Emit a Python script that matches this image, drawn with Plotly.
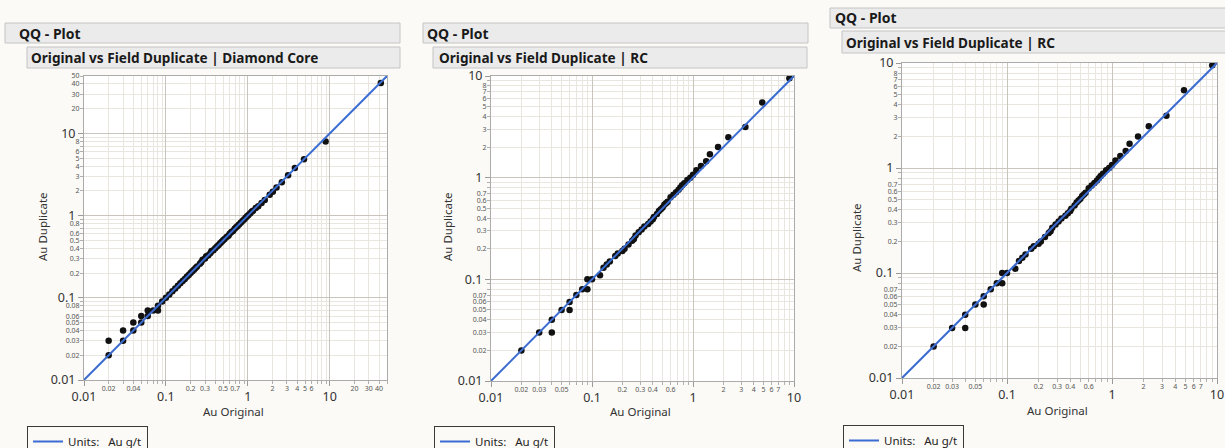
import math
import plotly.graph_objects as go

# ---------------- data ----------------
dc_original = [0.02, 0.02, 0.03, 0.03, 0.04, 0.04, 0.05, 0.05, 0.06, 0.06, 0.07, 0.08, 0.08, 0.09, 0.1,
               0.11, 0.12, 0.13, 0.14, 0.15, 0.16, 0.17, 0.18, 0.19, 0.2, 0.21, 0.22, 0.23, 0.24, 0.26,
               0.27, 0.28, 0.3, 0.31, 0.33, 0.35, 0.36, 0.38, 0.4, 0.42, 0.44, 0.46, 0.48, 0.5, 0.52,
               0.55, 0.58, 0.6, 0.63, 0.66, 0.69, 0.72, 0.75, 0.78, 0.82, 0.86, 0.9, 0.94, 0.98, 1.02,
               1.07, 1.12, 1.16, 1.25, 1.34, 1.47, 1.61, 1.85, 2.02, 2.24, 2.6, 3.1, 3.75, 4.85, 8.9, 42]
dc_duplicate = [0.02, 0.03, 0.03, 0.04, 0.04, 0.05, 0.05, 0.06, 0.06, 0.07, 0.07, 0.07, 0.08, 0.09, 0.1,
                0.11, 0.12, 0.13, 0.14, 0.15, 0.16, 0.17, 0.18, 0.19, 0.2, 0.21, 0.22, 0.23, 0.24, 0.26,
                0.27, 0.29, 0.3, 0.32, 0.33, 0.35, 0.37, 0.38, 0.4, 0.42, 0.44, 0.46, 0.48, 0.5, 0.52,
                0.55, 0.57, 0.6, 0.63, 0.65, 0.69, 0.72, 0.75, 0.78, 0.82, 0.86, 0.9, 0.94, 0.98, 1.02,
                1.07, 1.12, 1.15, 1.24, 1.3, 1.42, 1.55, 1.8, 1.95, 2.2, 2.55, 3.1, 3.8, 4.85, 8.0, 41]

rc_original = [0.02, 0.03, 0.04, 0.04, 0.05, 0.06, 0.06, 0.07, 0.08, 0.09, 0.09, 0.1, 0.12, 0.13, 0.14,
               0.15, 0.17, 0.18, 0.2, 0.21, 0.23, 0.25, 0.26, 0.27, 0.29, 0.31, 0.33, 0.36, 0.38, 0.4,
               0.41, 0.44, 0.46, 0.48, 0.5, 0.52, 0.54, 0.56, 0.6, 0.64, 0.68, 0.72, 0.75, 0.78, 0.82,
               0.88, 0.94, 1.0, 1.08, 1.2, 1.35, 1.47, 1.77, 2.24, 3.3, 4.85, 9.0]
rc_duplicate = [0.02, 0.03, 0.03, 0.04, 0.05, 0.05, 0.06, 0.07, 0.08, 0.08, 0.1, 0.1, 0.11, 0.13, 0.14,
                0.15, 0.17, 0.18, 0.19, 0.2, 0.22, 0.24, 0.25, 0.27, 0.29, 0.31, 0.33, 0.35, 0.37, 0.39,
                0.41, 0.44, 0.47, 0.49, 0.51, 0.54, 0.56, 0.58, 0.64, 0.68, 0.72, 0.76, 0.8, 0.84, 0.88,
                0.95, 1.0, 1.07, 1.18, 1.3, 1.45, 1.7, 2.0, 2.5, 3.15, 5.5, 9.5]

# 1:1 reference line end points
dc_line = [0.01, 50]
rc_line = [0.01, 10]

# tick labels
major_labels = [0.01, 0.1, 1, 10]
dc_x_minor_labels = [0.02, 0.04, 0.2, 0.3, 0.5, 0.7, 2, 3, 4, 5, 6, 20, 30, 40]
dc_y_minor_labels = [0.02, 0.03, 0.04, 0.05, 0.06, 0.08, 0.2, 0.3, 0.4, 0.5, 0.6, 0.8,
                     2, 3, 4, 5, 6, 8, 20, 30, 40, 50]
rc_x_minor_labels = [0.02, 0.03, 0.05, 0.2, 0.3, 0.4, 0.6, 2, 3, 4, 5, 6, 7]
rc_y_minor_labels = [0.02, 0.03, 0.04, 0.05, 0.06, 0.07, 0.2, 0.3, 0.4, 0.5, 0.6, 0.7,
                     2, 3, 4, 5, 6, 7, 8]

header_text = "QQ - Plot"
sub_titles = ["Original vs Field Duplicate | Diamond Core",
              "Original vs Field Duplicate | RC",
              "Original vs Field Duplicate | RC"]
x_title = "Au Original"
y_title = "Au Duplicate"
legend_text = "Units:   Au g/t"

# ---------------- layout geometry (pixels) ----------------
W, H = 1225, 448
FONT = "Noto Sans"
BG = "#FBFAF6"
GRID_MINOR = "#E9E6DF"
GRID_MAJOR = "#C9C5BC"
FRAME = "#ABABAB"
LINE_BLUE = "#3A6CD3"


def px_x(a):
    return a / W


def px_y(a):
    return 1 - a / H


panels = [
    dict(x=(84, 387), y=(76, 380), xmax=50, ox=dc_original, oy=dc_duplicate, line=dc_line,
         xl=dc_x_minor_labels, yl=dc_y_minor_labels,
         head=(5, 400, 23, 43, 17), sub=(27, 400, 47, 68, 29),
         xt=(234, 411), yt=(42, 227), leg=(27, 426)),
    dict(x=(491, 794), y=(76, 381), xmax=10, ox=rc_original, oy=rc_duplicate, line=rc_line,
         xl=rc_x_minor_labels, yl=rc_y_minor_labels,
         head=(423, 808, 23, 43, 425), sub=(433, 807, 47, 68, 437),
         xt=(640, 411), yt=(447, 227), leg=(434, 426)),
    dict(x=(902, 1217), y=(63, 378), xmax=10, ox=rc_original, oy=rc_duplicate, line=rc_line,
         xl=rc_x_minor_labels, yl=rc_y_minor_labels,
         head=(830, 1230, 8, 28, 833), sub=(842, 1230, 31, 53, 844),
         xt=(1057, 410), yt=(857, 237), leg=(843, 425)),
]


def grid_values(vmax):
    vals = []
    for e in range(-2, 3):
        for k in range(1, 10):
            v = round(k * 10 ** e, 6)
            if 0.01 <= v <= vmax * 1.0001:
                vals.append(v)
    return vals


def fmt(v):
    return "%g" % v


fig = go.Figure()
layout = {}
shapes = []
annotations = []

for i, p in enumerate(panels, start=1):
    xs = "" if i == 1 else str(i)
    xa, ya = "x" + xs, "y" + xs
    ov = str(i + 3)
    rng = [-2, math.log10(p["xmax"])]
    dom_x = [px_x(p["x"][0]), px_x(p["x"][1])]
    dom_y = [px_y(p["y"][1]), px_y(p["y"][0])]
    majors = [m for m in major_labels if m <= p["xmax"]]
    grid = grid_values(p["xmax"])
    minor_grid = [g for g in grid if g not in majors]

    fig.add_trace(go.Scatter(x=p["ox"], y=p["oy"], mode="markers", xaxis=xa, yaxis=ya,
                             marker=dict(color="#111111", size=6.5), showlegend=False,
                             hoverinfo="skip"))
    fig.add_trace(go.Scatter(x=p["line"], y=p["line"], mode="lines", xaxis=xa, yaxis=ya,
                             line=dict(color=LINE_BLUE, width=2), name=legend_text,
                             legend="legend" if i == 1 else "legend" + str(i)))
    # invisible carriers so the label-only overlay axes get drawn
    fig.add_trace(go.Scatter(x=p["line"], y=p["line"], mode="none", xaxis="x" + ov, yaxis=ya,
                             showlegend=False, hoverinfo="skip"))
    fig.add_trace(go.Scatter(x=p["line"], y=p["line"], mode="none", xaxis=xa, yaxis="y" + ov,
                             showlegend=False, hoverinfo="skip"))

    common = dict(type="log", range=rng, showline=True, linecolor=FRAME, linewidth=1,
                  mirror=True, ticks="outside", ticklen=5, tickcolor="#9A9A9A",
                  tickmode="array", tickvals=majors, ticktext=[fmt(m) for m in majors],
                  tickfont=dict(family=FONT, size=12.5, color="#333333"),
                  showgrid=True, gridcolor=GRID_MAJOR, gridwidth=1, zeroline=False,
                  minor=dict(tickmode="array", tickvals=minor_grid, showgrid=True,
                             gridcolor=GRID_MINOR, ticks="outside", ticklen=3,
                             tickcolor="#B0B0B0"),
                  fixedrange=True, tickangle=0)
    layout["xaxis" + xs] = dict(common, domain=dom_x, anchor=ya)
    layout["yaxis" + xs] = dict(common, domain=dom_y, anchor=xa)

    small = dict(type="log", range=rng, showline=False, showgrid=False, zeroline=False,
                 ticks="outside", ticklen=2, tickcolor="rgba(0,0,0,0)", tickmode="array",
                 tickfont=dict(family=FONT, size=7, color="#555555"), tickangle=0,
                 fixedrange=True)
    layout["xaxis" + ov] = dict(small, domain=dom_x, overlaying=xa, anchor=ya, side="bottom",
                                tickvals=p["xl"], ticktext=[fmt(v) for v in p["xl"]])
    layout["yaxis" + ov] = dict(small, domain=dom_y, overlaying=ya, anchor=xa, side="left",
                                tickvals=p["yl"], ticktext=[fmt(v) for v in p["yl"]])

    # header boxes
    hx0, hx1, hy0, hy1, htx = p["head"]
    shapes.append(dict(type="rect", xref="paper", yref="paper", x0=px_x(hx0), x1=px_x(hx1),
                       y0=px_y(hy1), y1=px_y(hy0), fillcolor="#EBEBEB",
                       line=dict(color="#C4C4C4", width=1), layer="below"))
    annotations.append(dict(text="<b>%s</b>" % header_text, xref="paper", yref="paper",
                            x=px_x(htx), y=px_y((hy0 + hy1) / 2), xanchor="left",
                            yanchor="middle", showarrow=False,
                            font=dict(family=FONT, size=14, color="#1A1A1A")))
    sx0, sx1, sy0, sy1, stx = p["sub"]
    shapes.append(dict(type="rect", xref="paper", yref="paper", x0=px_x(sx0), x1=px_x(sx1),
                       y0=px_y(sy1), y1=px_y(sy0), fillcolor="#EBEBEB",
                       line=dict(color="#C4C4C4", width=1), layer="below"))
    annotations.append(dict(text="<b>%s</b>" % sub_titles[i - 1], xref="paper", yref="paper",
                            x=px_x(stx), y=px_y((sy0 + sy1) / 2), xanchor="left",
                            yanchor="middle", showarrow=False,
                            font=dict(family=FONT, size=13.6, color="#1A1A1A")))
    # axis titles
    annotations.append(dict(text=x_title, xref="paper", yref="paper", x=px_x(p["xt"][0]),
                            y=px_y(p["xt"][1]), xanchor="center", yanchor="middle",
                            showarrow=False, font=dict(family=FONT, size=11.5, color="#333333")))
    annotations.append(dict(text=y_title, xref="paper", yref="paper", x=px_x(p["yt"][0]),
                            y=px_y(p["yt"][1]), xanchor="center", yanchor="middle",
                            textangle=-90, showarrow=False,
                            font=dict(family=FONT, size=11.5, color="#333333")))
    # legend
    layout["legend" if i == 1 else "legend" + str(i)] = dict(
        x=px_x(p["leg"][0]), y=px_y(p["leg"][1]), xanchor="left", yanchor="top",
        bordercolor="#3A3A3A", borderwidth=1, bgcolor=BG,
        font=dict(family=FONT, size=11.5, color="#222222"), itemwidth=30)

fig.update_layout(**layout)
fig.update_layout(width=W, height=H, autosize=False,
                  margin=dict(l=0, r=0, t=0, b=0, pad=0, autoexpand=False),
                  paper_bgcolor=BG, plot_bgcolor="#FFFFFF",
                  shapes=shapes, annotations=annotations,
                  font=dict(family=FONT), hovermode=False)

fig.write_html("out.html")
